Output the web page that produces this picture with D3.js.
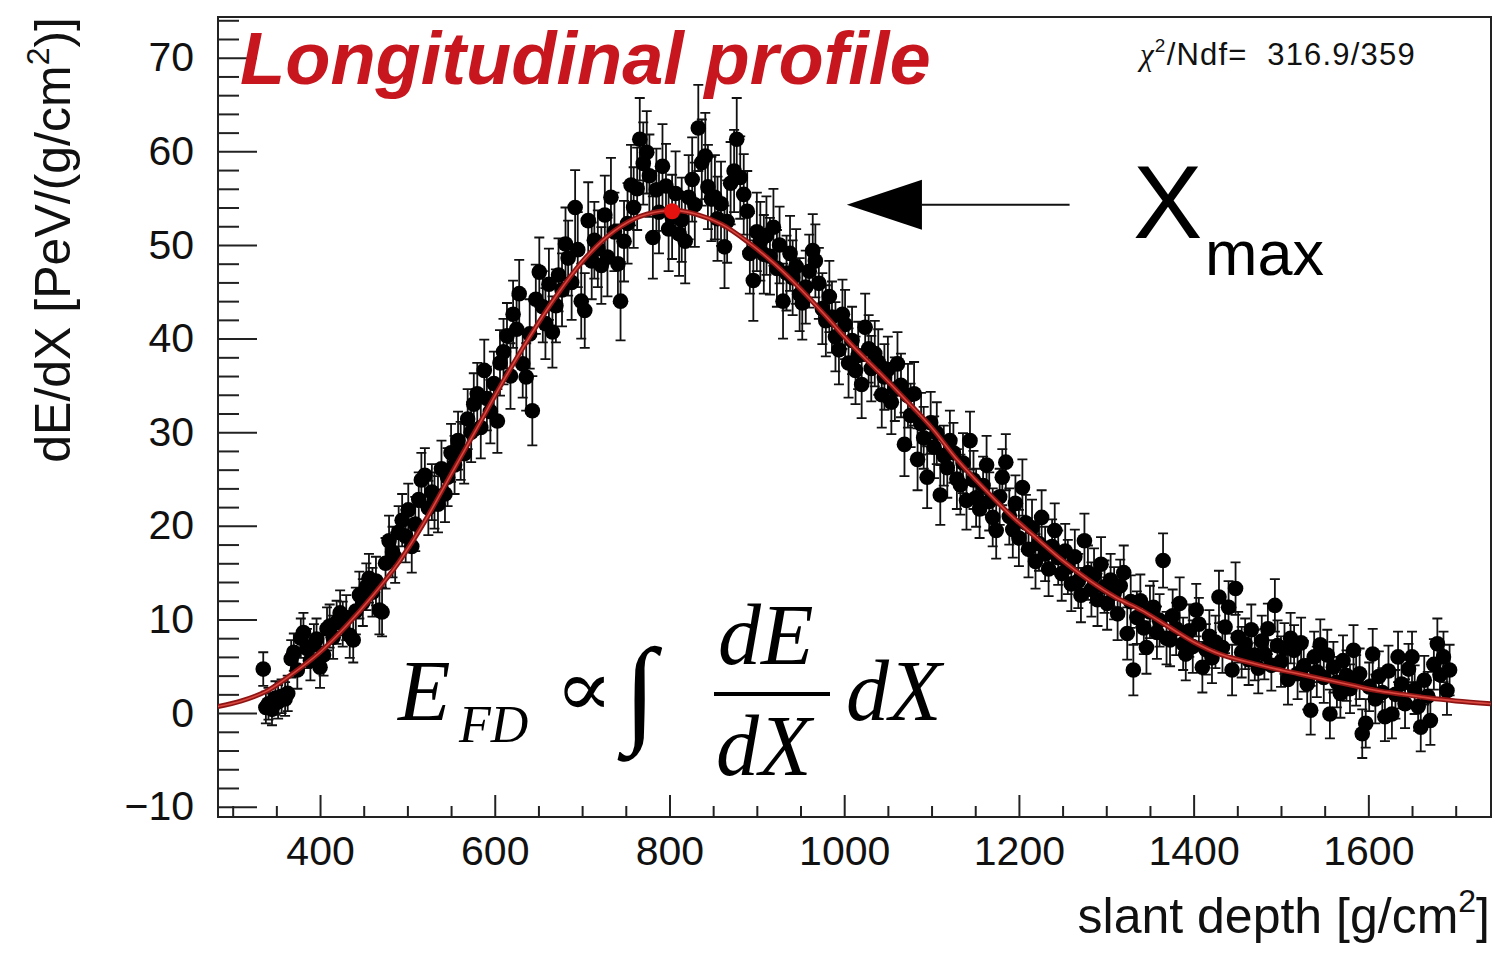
<!DOCTYPE html>
<html>
<head>
<meta charset="utf-8">
<script src="https://cdnjs.cloudflare.com/ajax/libs/d3/7.8.5/d3.min.js"></script>
<style>
  body { margin: 0; background: #fff; }
</style>
</head>
<body>
<div id="chart"></div>
<script>
// Canvas and frame
const width = 1496, height = 955;
const frame = { left: 218, right: 1491, top: 17, bottom: 817 };
const sans = "'Liberation Sans', Arial, sans-serif";
const serif = "'Liberation Serif', 'Times New Roman', serif";

// Measured profile: [slant depth, dE/dX, error]
const risingEdge = [
  [335,4.7,1.8],[338,0.6,1.7],[341,1.0,1.7],[345,0.4,1.7],[349,1.6,1.8],[352,1.2,1.8],[356,1.8,1.8],[360,1.5,1.8],
  [363,2.1,1.9],[367,5.8,2.0],[370,6.5,2.0],[374,4.6,2.0],[378,8.0,2.1],[381,8.6,2.1],[385,6.9,2.1],[389,5.6,2.1],
  [393,7.3,2.2],[396,7.9,2.2],[400,4.9,2.2],[404,6.2,2.2],[408,9.0,2.3],[411,9.3,2.3],[415,8.1,2.3],[419,9.7,2.3],
  [423,10.7,2.4],[426,9.5,2.4],[430,10.2,2.4],[434,8.3,2.4],[438,7.8,2.4],[441,10.9,2.5],[445,12.6,2.5],[449,11.8,2.5],
  [453,13.5,2.5],[456,14.4,2.6],[460,12.9,2.6],[464,14.1,2.6],[468,11.0,2.6],[471,10.8,2.6],[475,16.0,2.7],[479,18.4,2.7],
  [483,17.2,2.7],[486,16.6,2.7],[490,19.3,2.8],[494,20.6,2.8],[498,18.9,2.8],[501,21.7,2.8],[505,17.8,2.8],[509,20.2,2.9],
  [513,22.8,2.9],[516,24.9,2.9],[520,25.4,2.9],[524,21.9,2.9],[528,23.6,3.0],[531,22.7,3.0],[535,22.3,3.0],[539,26.1,3.0],
  [543,23.4,3.0],[546,25.2,3.1],[550,27.8,3.1],[554,26.5,3.1],[558,29.1,3.1]
];
const nearPeak = [
  [561,28.0,3.1],[565,27.7,3.2],[569,31.4,3.2],[573,30.0,3.2],[576,33.0,3.3],[580,34.1,3.3],[584,30.5,3.3],[588,36.6,3.3],
  [591,33.6,3.4],[595,32.2,3.4],[599,35.2,3.4],[603,31.2,3.4],[606,37.4,3.5],[610,38.6,3.5],[614,40.3,3.5],[618,36.0,3.5],
  [621,42.6,3.6],[625,41.0,3.6],[628,44.8,3.6],[632,37.3,3.6],[636,35.9,3.6],[640,40.5,3.7],[643,32.3,3.7],[647,44.2,3.7],
  [651,47.1,3.7],[655,43.4,3.8],[658,41.6,3.8],[662,45.8,3.8],[666,40.7,3.8],[670,43.5,3.9],[673,46.8,3.9],[677,45.2,3.9],
  [681,50.1,3.9],[684,48.6,4.0],[688,46.0,4.0],[692,54.0,4.0],[695,49.5,4.0],[699,44.0,4.0],[703,43.0,4.0],[707,52.6,4.1],
  [711,48.3,4.1],[714,50.5,4.1],[718,49.6,4.1],[722,47.8,4.1],[726,53.2,4.2],[729,48.7,4.2],[733,55.1,4.2],[737,51.4,4.2],
  [741,48.0,4.2],[744,44.0,4.2],[748,50.4,4.3],[752,52.3,4.3],[756,56.4,4.3],[759,54.0,4.3],[763,56.0,4.4],[766,61.3,4.4],
  [770,58.7,4.4],[774,59.9,4.4],[777,57.4,4.4],[781,50.8,4.4],[785,55.9,4.4],[788,53.5,4.4],[792,58.4,4.5],[796,56.3,4.5],
  [799,51.7,4.5],[803,53.0,4.5],[807,55.5,4.5],[811,51.2,4.5],[814,52.7,4.5],[818,50.4,4.5],[822,55.1,4.5],[826,57.0,4.5],
  [829,54.3,4.5],[833,62.5,4.6],[837,58.8,4.6],[841,59.5,4.6],[844,56.2,4.5],[848,54.9,4.5],[852,55.1,4.5],[855,52.8,4.5],
  [859,54.4,4.5],[863,49.8,4.4],[866,52.5,4.4],[870,56.6,4.4],[874,57.9,4.4],[877,61.3,4.4],[881,57.2,4.4],[885,55.4,4.3],
  [889,53.6,4.3],[892,49.1,4.3],[896,46.2,4.3]
];
const fallingEdge = [
  [900,51.4,4.2],[904,50.4,4.2],[908,49.0,4.2],[911,51.0,4.2],[915,48.8,4.1],[919,51.9,4.1],[923,47.5,4.1],[926,50.0,4.1],
  [930,44.0,4.0],[934,47.0,4.0],[938,49.1,4.0],[941,46.5,4.0],[945,47.7,4.0],[949,44.7,3.9],[952,43.8,3.9],[956,45.5,3.9],
  [960,47.2,3.9],[964,49.4,3.9],[967,48.3,3.9],[971,45.9,3.8],[975,43.2,3.8],[979,41.9,3.8],[983,44.5,3.8],[986,42.3,3.8],
  [990,40.2,3.7],[994,38.8,3.7],[998,42.6,3.7],[1001,41.5,3.7],[1005,37.4,3.7],[1009,39.8,3.6],[1013,36.6,3.6],[1016,38.2,3.6],
  [1020,35.1,3.6],[1024,41.2,3.6],[1028,38.9,3.6],[1031,36.8,3.5],[1035,38.4,3.5],[1039,37.5,3.5],[1043,34.0,3.5],[1046,35.9,3.5],
  [1050,36.7,3.5],[1054,33.2,3.4],[1058,34.6,3.4],[1061,37.3,3.4],[1065,35.0,3.4],[1069,28.7,3.4],[1073,33.9,3.4],[1076,31.8,3.4],
  [1080,34.1,3.4],[1084,27.1,3.3],[1088,30.9,3.3],[1091,29.4,3.3],[1095,25.2,3.3],[1099,31.0,3.3],[1103,28.4,3.3],[1106,29.9,3.3],
  [1110,23.3,3.2],[1114,27.5,3.2],[1118,26.2,3.2],[1121,29.1,3.2],[1125,27.8,3.2],[1129,25.0,3.2],[1133,24.4,3.2],[1136,26.7,3.2],
  [1140,22.7,3.1],[1144,29.1,3.1],[1148,24.9,3.1],[1151,23.0,3.1],[1155,21.8,3.1],[1159,24.3,3.1],[1163,26.5,3.1],[1166,22.6,3.1],
  [1170,20.9,3.1],[1174,19.5,3.0],[1178,23.1,3.0],[1181,25.2,3.0],[1185,26.8,3.0],[1189,21.0,3.0],[1193,19.6,3.0],[1196,22.4,3.0],
  [1200,18.7,3.0],[1204,24.1,3.0],[1208,20.3,3.0],[1211,17.5,3.0],[1215,19.8,3.0],[1219,16.2,2.9],[1223,18.1,2.9],[1226,20.9,2.9],
  [1230,17.0,2.9],[1234,15.4,2.9],[1238,17.8,2.9],[1241,19.5,2.9],[1245,16.6,2.9],[1249,14.9,2.9]
];
const tail = [
  [1253,17.3,2.9],[1256,15.6,2.9],[1260,13.8,2.9],[1264,16.7,2.9],[1268,14.1,2.9],[1271,12.6,2.9],[1275,18.4,2.9],[1279,15.0,2.9],
  [1283,13.2,2.9],[1286,14.7,2.9],[1290,12.1,2.8],[1294,15.9,2.9],[1298,13.5,2.8],[1301,11.7,2.8],[1305,14.2,2.8],[1309,12.8,2.8],
  [1313,10.6,2.8],[1316,13.6,2.8],[1320,15.0,2.9],[1324,8.5,2.8],[1328,11.9,2.8],[1331,4.6,2.7],[1335,10.2,2.8],[1339,12.0,2.8],
  [1343,9.1,2.8],[1346,7.0,2.8],[1350,10.8,2.8],[1354,11.3,2.8],[1358,8.6,2.8],[1361,9.9,2.8],[1365,16.3,2.9],[1369,8.0,2.8],
  [1373,7.8,2.8],[1376,10.4,2.8],[1380,9.0,2.8],[1384,11.7,2.8],[1388,7.4,2.8],[1391,6.3,2.8],[1395,8.8,2.8],[1399,7.1,2.8],
  [1403,11.0,2.8],[1406,9.5,2.8],[1410,4.9,2.7],[1414,6.8,2.7],[1418,8.2,2.8],[1421,5.9,2.7],[1425,7.6,2.8],[1429,12.4,2.8],
  [1433,7.0,2.7],[1436,9.2,2.8],[1440,11.3,2.8],[1444,4.6,2.7],[1448,13.3,2.8],[1451,8.1,2.7],[1455,6.5,2.7],[1459,7.4,2.7],
  [1463,5.7,2.7],[1466,8.9,2.7],[1470,6.2,2.7],[1474,4.8,2.7],[1478,7.7,2.7],[1481,6.3,2.7],[1485,9.0,2.7],[1489,5.1,2.7],
  [1493,11.5,2.8],[1496,7.2,2.7],[1500,5.5,2.7],[1504,6.9,2.7],[1508,3.6,2.7],[1511,8.0,2.7],[1515,6.7,2.7],[1519,4.2,2.7],
  [1523,7.5,2.7],[1526,5.0,2.7],[1530,3.1,2.7],[1534,0.3,2.6],[1538,6.0,2.7],[1541,4.4,2.7],[1545,7.3,2.7],[1549,3.8,2.7],
  [1553,6.2,2.7],[1556,-0.1,2.6],[1560,4.9,2.7],[1564,3.3,2.7],[1568,2.1,2.6],[1571,5.6,2.7],[1575,4.0,2.7],[1579,2.6,2.6],
  [1583,6.7,2.7],[1586,3.5,2.7],[1590,4.2,2.7],[1593,-2.2,2.6],[1597,-1.1,2.6],[1601,2.8,2.6],[1605,6.3,2.7],[1608,1.5,2.6],
  [1612,3.9,2.7],[1616,2.2,2.6],[1619,-0.4,2.6],[1623,4.5,2.7],[1627,-0.1,2.6],[1631,2.0,2.6],[1634,6.0,2.7],[1638,3.1,2.6],
  [1642,1.0,2.6],[1646,4.7,2.7],[1650,6.0,2.7],[1653,2.5,2.6],[1657,0.7,2.6],[1660,-1.5,2.6],[1664,3.5,2.6],[1668,1.8,2.6],
  [1671,-0.8,2.6],[1675,5.2,2.7],[1679,7.4,2.7],[1682,4.1,2.7],[1686,6.0,2.7],[1690,2.4,2.6],[1693,4.6,2.7]
];

// Gaisser-Hillas fit
const fitDepth = [283,310,340,370,400,430,460,490,520,550,580,610,640,670,700,730,760,790,805,830,860,890,920,950,980,
  1010,1040,1070,1100,1130,1160,1190,1220,1250,1280,1310,1340,1370,1400,1430,1460,1490,1520,1550,1580,1610,1640,1670,1700,1740];
const fitValue = [0.7,1.3,2.4,4.3,6.5,9.3,12.5,16.1,20.5,25.5,30.5,35.5,40.2,44.5,48.2,51.0,52.8,53.6,53.7,53.3,52.2,50.3,48.0,45.3,42.3,
  39.2,36.4,33.5,30.5,27.0,24.0,21.2,18.7,16.3,14.2,12.4,11.0,9.3,7.6,6.3,5.5,4.8,4.2,3.6,3.0,2.4,2.0,1.6,1.3,1.0];
const xmax = [803, 53.6];

// Axis ticks
const xMajor = [400, 600, 800, 1000, 1200, 1400, 1600];
const xMinor = [300,350,450,500,550,650,700,750,850,900,950,1050,1100,1150,1250,1300,1350,1450,1500,1550,1650,1700];
const yMajor = [-10, 0, 10, 20, 30, 40, 50, 60, 70];
const yMinor = [-8,-6,-4,-2,2,4,6,8,12,14,16,18,22,24,26,28,32,34,36,38,42,44,46,48,52,54,56,58,62,64,66,68,72,74];

const svg = d3.select("#chart")
  .append("svg")
  .attr("width", width)
  .attr("height", height)
  .style("font-family", sans);

const x = d3.scaleLinear().domain([283.2, 1740.4]).range([frame.left, frame.right]);
const y = d3.scaleLinear().domain([-11.1, 74.35]).range([frame.bottom, frame.top]);

svg.append("clipPath").attr("id", "frameclip")
  .append("rect")
  .attr("x", frame.left).attr("y", frame.top)
  .attr("width", frame.right - frame.left).attr("height", frame.bottom - frame.top);

// Axes (ticks drawn inwards like ROOT)
const axisColor = "#222";
svg.append("g").attr("transform", `translate(0,${frame.bottom})`)
  .call(d3.axisBottom(x).tickValues(xMajor).tickSize(-22).tickSizeOuter(0).tickPadding(19).tickFormat(d3.format("d")));
svg.append("g").attr("transform", `translate(0,${frame.bottom})`)
  .call(d3.axisBottom(x).tickValues(xMinor).tickSize(-11).tickSizeOuter(0).tickFormat(""));
svg.append("g").attr("transform", `translate(${frame.left},0)`)
  .call(d3.axisLeft(y).tickValues(yMajor).tickSize(-39).tickSizeOuter(0).tickPadding(24));
svg.append("g").attr("transform", `translate(${frame.left},0)`)
  .call(d3.axisLeft(y).tickValues(yMinor).tickSize(-21).tickSizeOuter(0).tickFormat(""));

svg.selectAll(".domain").remove();
svg.selectAll(".tick line").attr("stroke", axisColor).attr("stroke-width", 2);
svg.selectAll(".tick text")
  .style("font-family", sans)
  .style("font-size", "41px")
  .attr("fill", "#111");

// Frame
svg.append("rect")
  .attr("x", frame.left).attr("y", frame.top)
  .attr("width", frame.right - frame.left).attr("height", frame.bottom - frame.top)
  .attr("fill", "none").attr("stroke", axisColor).attr("stroke-width", 2);

// Data points with error bars
const points = risingEdge.concat(nearPeak, fallingEdge, tail);
const pts = svg.append("g").attr("clip-path", "url(#frameclip)");

pts.append("g")
  .selectAll("path")
  .data(points)
  .join("path")
  .attr("d", d => {
    const px = x(d[0]), top = y(d[1] + d[2]), bot = y(d[1] - d[2]);
    return `M${px},${top}V${bot}M${px - 5},${top}H${px + 5}M${px - 5},${bot}H${px + 5}`;
  })
  .attr("stroke", "#111")
  .attr("stroke-width", 1.8)
  .attr("fill", "none");

pts.append("g")
  .selectAll("circle")
  .data(points)
  .join("circle")
  .attr("cx", d => x(d[0]))
  .attr("cy", d => y(d[1]))
  .attr("r", 7.8)
  .attr("fill", "#000");

// Fit curve
const fitLine = d3.line()
  .x((d, i) => x(fitDepth[i]))
  .y(d => y(d))
  .curve(d3.curveMonotoneX);

const fitG = svg.append("g").attr("clip-path", "url(#frameclip)");
fitG.append("path")
  .attr("d", fitLine(fitValue))
  .attr("fill", "none")
  .attr("stroke", "#8e1414")
  .attr("stroke-width", 5);
fitG.append("path")
  .attr("d", fitLine(fitValue))
  .attr("fill", "none")
  .attr("stroke", "#d9473f")
  .attr("stroke-width", 1.6);

svg.append("circle")
  .attr("cx", x(xmax[0]))
  .attr("cy", y(xmax[1]))
  .attr("r", 8)
  .attr("fill", "#e3120f");

// Arrow pointing at the shower maximum
const arrowTip = [1003, 54.3], arrowBase = 1089, arrowEnd = 1258;
svg.append("line")
  .attr("x1", x(arrowBase)).attr("x2", x(arrowEnd))
  .attr("y1", y(arrowTip[1])).attr("y2", y(arrowTip[1]))
  .attr("stroke", "#111").attr("stroke-width", 2);
svg.append("path")
  .attr("d", `M${x(arrowTip[0])},${y(arrowTip[1])}L${x(arrowBase)},${y(arrowTip[1]) - 25}L${x(arrowBase)},${y(arrowTip[1]) + 25}Z`)
  .attr("fill", "#000");

// Axis titles
const yTitle = svg.append("text")
  .attr("transform", `translate(70,${frame.top}) rotate(-90)`)
  .attr("text-anchor", "end")
  .style("font-size", "50px")
  .attr("fill", "#111");
yTitle.append("tspan").text("dE/dX [PeV/(g/cm");
yTitle.append("tspan").style("font-size", "32px").attr("dy", -21).text("2");
yTitle.append("tspan").attr("dy", 21).text(")]");

const xTitle = svg.append("text")
  .attr("x", 1490).attr("y", 933)
  .attr("text-anchor", "end")
  .style("font-size", "50px")
  .attr("fill", "#111");
xTitle.append("tspan").text("slant depth [g/cm");
xTitle.append("tspan").style("font-size", "32px").attr("dy", -21).text("2");
xTitle.append("tspan").attr("dy", 21).text("]");

// Title
svg.append("text")
  .attr("x", 240).attr("y", 84)
  .style("font-size", "74px")
  .style("font-weight", "bold")
  .style("font-style", "italic")
  .attr("fill", "#c8161e")
  .text("Longitudinal profile");

// Fit quality
const chi = svg.append("text")
  .attr("x", 1140).attr("y", 65)
  .style("font-size", "31px")
  .style("letter-spacing", "1.2px")
  .style("white-space", "pre")
  .attr("fill", "#111");
chi.append("tspan").style("font-family", serif).style("font-style", "italic").text("\u03c7");
chi.append("tspan").style("font-size", "19px").attr("dy", -13).text("2");
chi.append("tspan").attr("dy", 13).text("/Ndf=  316.9/359");

// X_max label
svg.append("text")
  .attr("x", 1133).attr("y", 238)
  .style("font-size", "104px")
  .attr("fill", "#000")
  .text("X");
svg.append("text")
  .attr("x", 1205).attr("y", 275)
  .style("font-size", "63px")
  .attr("fill", "#000")
  .text("max");

// Energy formula
function formulaText(tx, ty, size, str, italic = true, fam = serif) {
  return svg.append("text")
    .attr("x", tx).attr("y", ty)
    .style("font-family", fam)
    .style("font-size", size + "px")
    .style("font-style", italic ? "italic" : "normal")
    .attr("fill", "#000")
    .text(str);
}
formulaText(398, 720, 86, "E");
formulaText(459, 742, 52, "FD");
formulaText(555, 716, 80, "\u221d", false, "'DejaVu Serif', serif")
  .attr("textLength", 58).attr("lengthAdjust", "spacingAndGlyphs");
formulaText(624, 730, 118, "\u222b", false);
formulaText(718, 664, 86, "dE");
formulaText(716, 775, 86, "dX");
formulaText(846, 720, 86, "dX");
svg.append("line")
  .attr("x1", 714).attr("x2", 830)
  .attr("y1", 694).attr("y2", 694)
  .attr("stroke", "#000").attr("stroke-width", 4);
</script>
</body>
</html>
